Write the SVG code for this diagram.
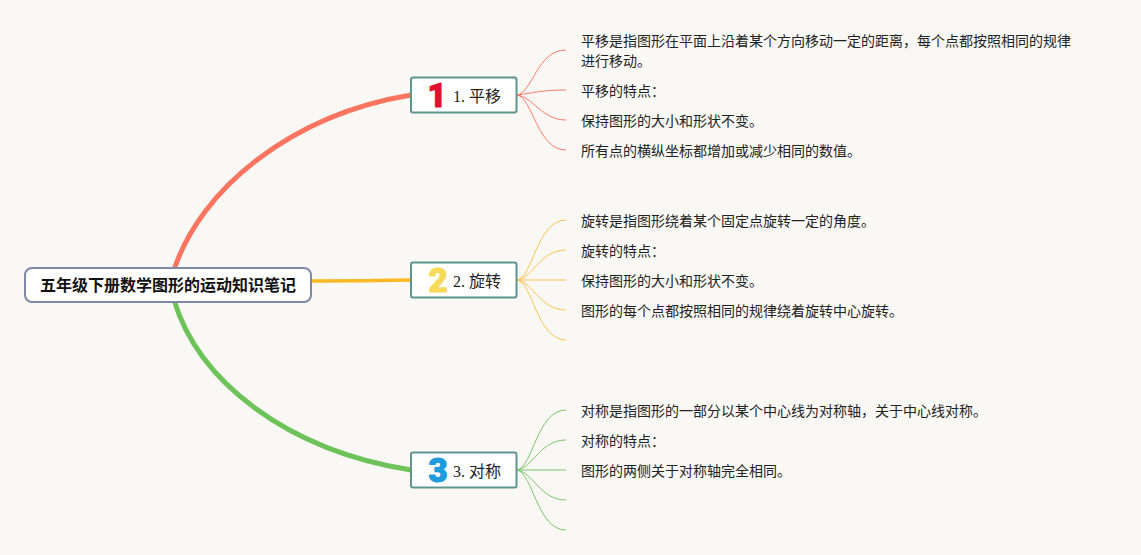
<svg xmlns="http://www.w3.org/2000/svg" width="1141" height="555" viewBox="0 0 1141 555">
<style>
text{font-family:"Liberation Serif","Noto Sans CJK SC",serif;fill:#222}
.t{font-size:14px}
.b{font-size:16px}
.root{font-size:16px;font-weight:700;fill:#111;font-family:"Noto Sans CJK SC",sans-serif}
.box{fill:#fff;stroke:#5c968e;stroke-width:2}
.num{font-family:"Roboto","Liberation Sans",sans-serif;font-weight:900;font-size:33px;stroke-width:1.2;stroke-linejoin:round;text-anchor:middle}
.m{fill:none;stroke-linecap:butt}
.r{fill:none;stroke:#fb7a6a;stroke-width:1}
.y{fill:none;stroke:#fcc451;stroke-width:1}
.g{fill:none;stroke:#7cc56a;stroke-width:1}
</style>
<rect width="1141" height="555" fill="#f9f8f4"/>
<g id="connectors">
<path class="m" d="M174 270C200 190 290 115 411 95" stroke="#fd7560" stroke-width="5"/>
<path class="m" d="M311 281Q360 281 411 280" stroke="#fdb924" stroke-width="3.500"/>
<path class="m" d="M174 300C198 380 285 450 411 470" stroke="#6dc35a" stroke-width="5"/>
<path class="r" d="M517 95C533 92 537 50 566 50"/>
<path class="r" d="M517 95C533 93 542 90 566 90"/>
<path class="r" d="M517 95C533 97 542 120 566 120"/>
<path class="r" d="M517 95C533 98 537 150 566 150"/>
<path class="y" d="M517 280C533 277 537 220 566 220"/>
<path class="y" d="M517 280C533 278 540 250 566 250"/>
<path class="y" d="M517 280H566"/>
<path class="y" d="M517 280C533 282 540 310 566 310"/>
<path class="y" d="M517 280C533 283 537 340 566 340"/>
<path class="g" d="M517 470C533 467 537 410 566 410"/>
<path class="g" d="M517 470C533 468 540 440 566 440"/>
<path class="g" d="M517 470H566"/>
<path class="g" d="M517 470C533 472 540 500 566 500"/>
<path class="g" d="M517 470C533 473 537 530 566 530"/>
</g>
<g id="root"><rect x="25" y="268" width="286" height="34" rx="7" fill="#fff" stroke="#8088a8" stroke-width="2"/><text class="root" x="168" y="291" text-anchor="middle">五年级下册数学图形的运动知识笔记</text></g>
<g id="n1"><rect class="box" x="411" y="77.500" width="105.500" height="35" rx="2"/><text class="num" x="437" y="106.500" style="fill:#e0122f;stroke:#e0122f">1</text><text class="b" x="453" y="101.500">1. 平移</text></g>
<g id="n2"><rect class="box" x="411" y="262.500" width="105.500" height="35" rx="2"/><text class="num" x="438" y="292" style="fill:#f6db5a;stroke:#f6db5a">2</text><text class="b" x="453" y="286.500">2. 旋转</text></g>
<g id="n3"><rect class="box" x="411" y="452.500" width="105.500" height="35" rx="2"/><text class="num" x="438" y="482" style="fill:#1f9bdc;stroke:#1f9bdc">3</text><text class="b" x="453" y="476.500">3. 对称</text></g>
<g id="leaves1">
<text class="t" x="581" y="46">平移是指图形在平面上沿着某个方向移动一定的距离，每个点都按照相同的规律</text>
<text class="t" x="581" y="66">进行移动。</text>
<text class="t" x="581" y="96">平移的特点：</text>
<text class="t" x="581" y="126">保持图形的大小和形状不变。</text>
<text class="t" x="581" y="156">所有点的横纵坐标都增加或减少相同的数值。</text>
</g>
<g id="leaves2">
<text class="t" x="581" y="226">旋转是指图形绕着某个固定点旋转一定的角度。</text>
<text class="t" x="581" y="256">旋转的特点：</text>
<text class="t" x="581" y="286">保持图形的大小和形状不变。</text>
<text class="t" x="581" y="316">图形的每个点都按照相同的规律绕着旋转中心旋转。</text>
</g>
<g id="leaves3">
<text class="t" x="581" y="416">对称是指图形的一部分以某个中心线为对称轴，关于中心线对称。</text>
<text class="t" x="581" y="446">对称的特点：</text>
<text class="t" x="581" y="476">图形的两侧关于对称轴完全相同。</text>
</g>
</svg>
